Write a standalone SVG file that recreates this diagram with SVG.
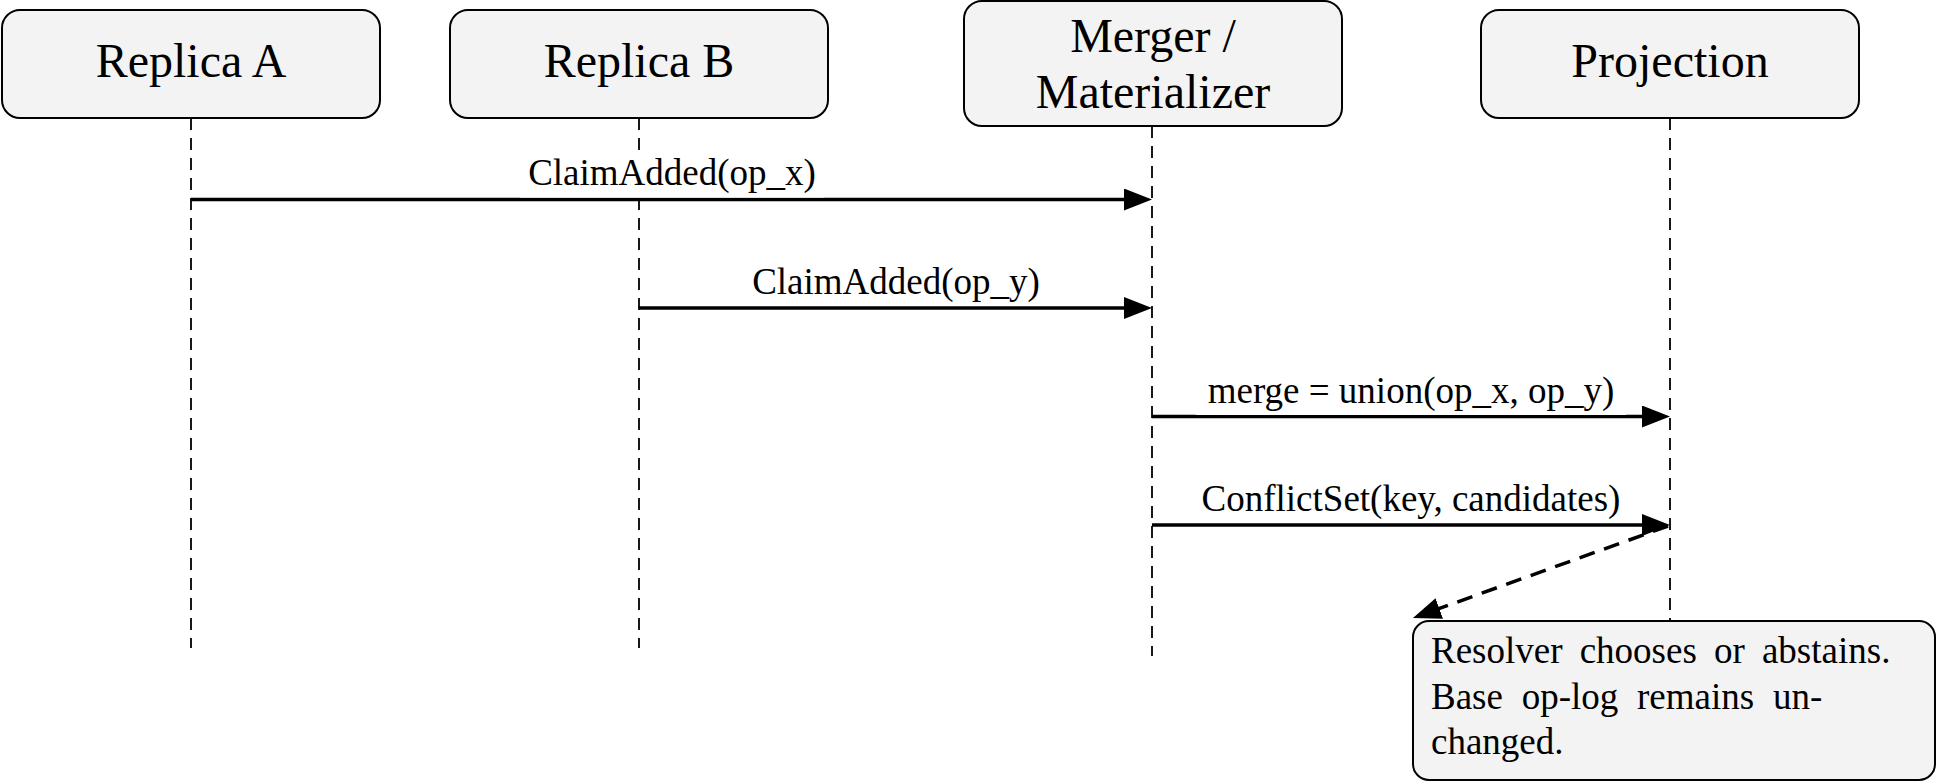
<svg xmlns="http://www.w3.org/2000/svg" width="1938" height="782" viewBox="0 0 1938 782">
<style>
.box{fill:#f3f3f3;stroke:#000;stroke-width:2}
.nlabel{font-family:"Liberation Serif","Times New Roman",serif;font-size:48px;fill:#000;text-anchor:middle}
.mlabel{font-family:"Liberation Serif","Times New Roman",serif;font-size:37px;fill:#000;text-anchor:middle}
.note{font-family:"Liberation Serif","Times New Roman",serif;font-size:37px;fill:#000}
.life{stroke:#000;stroke-width:1.8;stroke-dasharray:12 8;fill:none}
.msg{stroke:#000;stroke-width:3.5;fill:none}
.dmsg{stroke:#000;stroke-width:3.5;fill:none;stroke-dasharray:16 10}
.lbg{fill:#fff}
</style>
<defs>
<marker id="ah" markerUnits="userSpaceOnUse" markerWidth="30" markerHeight="24" refX="2" refY="11" orient="auto" viewBox="0 0 30 24">
<path d="M0,0 L28,11 L0,22 z" fill="#000"/>
</marker>
</defs>
<rect width="1938" height="782" fill="#fff"/>
<g id="lifelines">
<line class="life" x1="191" y1="118" x2="191" y2="648"/>
<line class="life" x1="639" y1="118" x2="639" y2="648"/>
<line class="life" x1="1152" y1="126" x2="1152" y2="656"/>
<line class="life" x1="1670" y1="118" x2="1670" y2="620"/>
</g>
<g id="replicaA">
<rect class="box" x="2" y="10" width="378" height="108" rx="18"/>
<text class="nlabel" x="191" y="77">Replica A</text>
</g>
<g id="replicaB">
<rect class="box" x="450" y="10" width="378" height="108" rx="18"/>
<text class="nlabel" x="639" y="77">Replica B</text>
</g>
<g id="merger">
<rect class="box" x="964" y="1" width="378" height="125" rx="18"/>
<text class="nlabel" x="1153" y="52">Merger /</text>
<text class="nlabel" x="1153" y="108">Materializer</text>
</g>
<g id="projection">
<rect class="box" x="1481" y="10" width="378" height="108" rx="18"/>
<text class="nlabel" x="1670" y="77">Projection</text>
</g>
<g id="connectors">
<line class="msg" x1="191" y1="199.5" x2="1126" y2="199.5" marker-end="url(#ah)"/>
<rect class="lbg" x="520" y="158" width="304" height="39.5"/>
<text class="mlabel" x="672" y="185">ClaimAdded(op_x)</text>
<line class="msg" x1="639" y1="308" x2="1126" y2="308" marker-end="url(#ah)"/>
<rect class="lbg" x="744" y="266" width="304" height="40"/>
<text class="mlabel" x="896" y="294">ClaimAdded(op_y)</text>
<line class="msg" x1="1152" y1="416.5" x2="1644" y2="416.5" marker-end="url(#ah)"/>
<rect class="lbg" x="1196" y="375" width="430" height="40"/>
<text class="mlabel" x="1411" y="403">merge = union(op_x, op_y)</text>
<line class="msg" x1="1152" y1="525" x2="1644" y2="525" marker-end="url(#ah)"/>
<rect class="lbg" x="1186" y="483" width="450" height="40"/>
<text class="mlabel" x="1411" y="511">ConflictSet(key, candidates)</text>
<line class="dmsg" x1="1668" y1="526" x2="1437.4" y2="609.2" marker-end="url(#ah)"/>
</g>
<g id="note">
<rect class="box" x="1413" y="621" width="522" height="159" rx="16"/>
<text class="note" x="1431" y="663" word-spacing="7.9">Resolver chooses or abstains.</text>
<text class="note" x="1431" y="709" word-spacing="9.5">Base op-log remains un-</text>
<text class="note" x="1431" y="754">changed.</text>
</g>
</svg>
